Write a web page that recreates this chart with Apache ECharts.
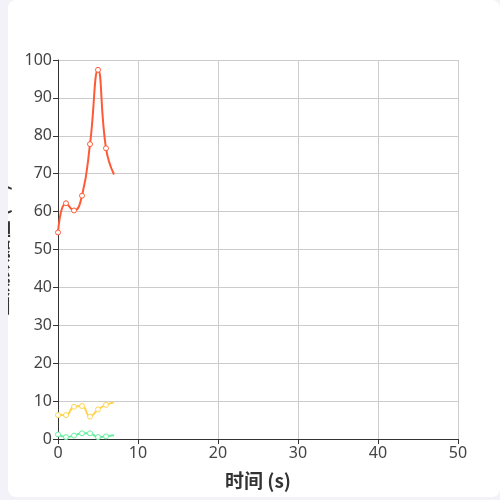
<!DOCTYPE html>
<html><head><meta charset="utf-8">
<script src="https://cdn.jsdelivr.net/npm/echarts@6/dist/echarts.min.js"></script>
<style>
html,body{margin:0;padding:0;width:500px;height:500px;background:#f2f2f8;overflow:hidden;}
#card{position:absolute;left:8px;top:0;width:492px;height:497px;background:#fff;border-radius:8px;overflow:hidden;}
#chart{width:492px;height:497px;}
</style></head>
<body><div id="card"><div id="chart"></div></div>
<script>
const timeValues = [0, 1, 2, 3, 4, 5, 6, 7];
const redValues = [54.5, 62.2, 60.3, 64.2, 77.8, 97.4, 76.7, 69.8];
const yellowValues = [6.3, 6.3, 8.5, 8.7, 5.9, 7.8, 9.0, 9.7];
const greenValues = [1.2, 0.5, 0.9, 1.5, 1.5, 0.5, 0.7, 1.0];
const seriesNames = ['系列一', '系列二', '系列三'];
const xAxisName = '时间 (s)';
const yAxisName = '监测数据值 (%)';

function pts(vals){
  return timeValues.map((t,i)=>{
    const item = {value:[t, vals[i]]};
    if (i === timeValues.length-1) item.symbolSize = 0;
    return item;
  });
}
const font = '"Noto Sans","Noto Sans CJK SC",sans-serif';
const nameFont = '"Noto Sans CJK SC",sans-serif';
const chart = echarts.init(document.getElementById('chart'));
function mk(name, vals, color){
  return {name, type:'line', smooth:true, data:pts(vals), symbol:'circle', symbolSize:5,
    itemStyle:{color:'#fff', borderColor:color, borderWidth:1},
    lineStyle:{color:color, width:2}, animation:false};
}
chart.setOption({
  animation:false,
  textStyle:{fontFamily:font},
  grid:{left:50, right:42, top:60, bottom:58, containLabel:false, outerBoundsMode:'none'},
  xAxis:{type:'value', min:0, max:50, interval:10, name:xAxisName, nameLocation:'middle', nameGap:32,
    nameTextStyle:{fontSize:19, fontWeight:'bold', color:'#333', fontFamily:nameFont},
    axisLine:{show:true, lineStyle:{color:'#333'}}, axisTick:{show:true},
    axisLabel:{fontSize:16, color:'#444', margin:6}, splitLine:{show:true, lineStyle:{color:'#ccc'}}},
  yAxis:{type:'value', min:0, max:100, interval:10, name:yAxisName, nameLocation:'middle', nameGap:48,
    nameTextStyle:{fontSize:19, fontWeight:'bold', color:'#333', fontFamily:nameFont},
    axisLine:{show:true, lineStyle:{color:'#333'}}, axisTick:{show:true},
    axisLabel:{fontSize:16, color:'#444', margin:6}, splitLine:{show:true, lineStyle:{color:'#ccc'}}},
  series:[mk(seriesNames[0], redValues, '#ff5a36'), mk(seriesNames[1], yellowValues, '#ffd44f'), mk(seriesNames[2], greenValues, '#66f0a0')]
});
</script></body></html>
